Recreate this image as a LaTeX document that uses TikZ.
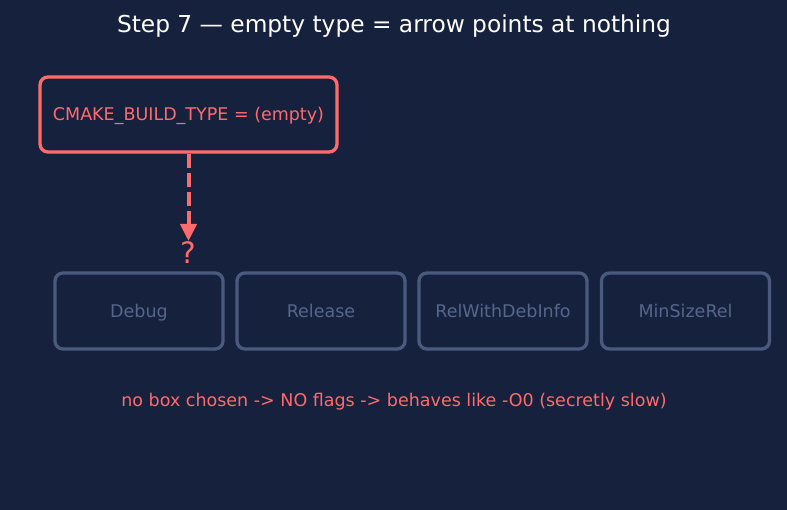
\documentclass[tikz,border=0pt]{standalone}
\usepackage{fontspec}
\setmainfont{DejaVu Sans}
\usetikzlibrary{arrows.meta}
\definecolor{bg}{HTML}{16213E}
\definecolor{hot}{HTML}{FF6B6B}
\definecolor{dimline}{HTML}{4A5A7C}
\definecolor{dimtext}{HTML}{56668A}
\tikzset{
  txt/.style={inner sep=0pt, text height=12.8pt, text depth=0pt, font=\fontsize{17.5}{20}\selectfont},
  hotbox/.style={txt, draw=hot, line width=3.3pt, rounded corners=8pt, fill=bg, minimum width=297pt, minimum height=75pt, text=hot},
  dimbox/.style={txt, draw=dimline, line width=3.3pt, rounded corners=8pt, fill=bg, minimum width=168pt, minimum height=76pt, text=dimtext}
}
\begin{document}
\begin{tikzpicture}[x=1pt,y=-1pt]
\fill[bg] (0,0) rectangle (787,510);
\useasboundingbox (0,0) rectangle (787,510);
\node[inner sep=0pt, text height=17pt, text depth=0pt, text=white, font=\fontsize{23.3}{26}\selectfont] (title) at (394,23.7) {Step 7 — empty type = arrow points at nothing};
\node[hotbox] (cmake) at (188.5,114.5) {CMAKE\_BUILD\_TYPE = (empty)};
\coordinate (tip) at (188.5,241);
\node[inner sep=0pt, text height=21.5pt, text depth=0pt, text=hot, font=\fontsize{29.5}{32}\selectfont] (q) at (188.5,253) {?};
\draw[hot, line width=4pt, dash pattern=on 14pt off 5pt, -{Triangle[length=17pt,width=16pt]}] (cmake.south) -- (tip);
\node[dimbox] (debug) at (139,311) {Debug};
\node[dimbox] (release) at (321,311) {Release};
\node[dimbox] (relwith) at (503,311) {RelWithDebInfo};
\node[dimbox] (minsize) at (685.5,311) {MinSizeRel};
\node[txt, text=hot] (note) at (394,399.7) {no box chosen -> NO flags -> behaves like -O0 (secretly slow)};
\end{tikzpicture}
\end{document}
